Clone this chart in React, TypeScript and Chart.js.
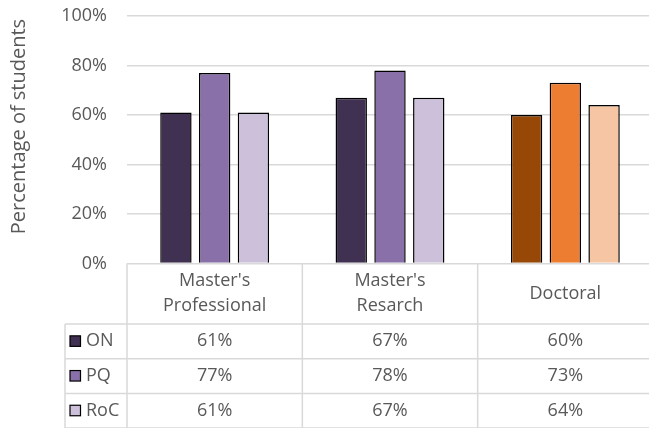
import React, { useEffect, useRef } from "react";
import { Chart, registerables } from "chart.js";

Chart.register(...registerables);

const categories: string[][] = [["Master's", "Professional"], ["Master's", "Resarch"], ["Doctoral"]];
const seriesNames = ["ON", "PQ", "RoC"];
const onValues = [61, 67, 60];
const pqValues = [77, 78, 73];
const rocValues = [61, 67, 64];
const tableLabels = [
  ["61%", "67%", "60%"],
  ["77%", "78%", "73%"],
  ["61%", "67%", "64%"],
];
const yMax = 100;
const yStep = 20;
const axisTitle = "Percentage of students";

const onColors = ["#403152", "#403152", "#974806"];
const pqColors = ["#8A70A8", "#8A70A8", "#ED7D31"];
const rocColors = ["#CCC0DA", "#CCC0DA", "#F6C5A4"];
const legendColors = ["#403152", "#8A70A8", "#CCC0DA"];

const TEXT = "#595959";
const LINE = "#d9d9d9";
const FONT = '"Open Sans", sans-serif';

const tablePlugin = {
  id: "dataTable",
  afterDraw(chart: any) {
    const { ctx, chartArea } = chart;
    const n = categories.length;
    const catW = (chartArea.right - chartArea.left) / n;
    const top = chartArea.bottom;
    const headerH = 60.5;
    const rowH = 34.7;
    const tableLeft = 65;
    const right = chart.width;
    const bottom = top + headerH + rowH * seriesNames.length;

    ctx.save();
    ctx.strokeStyle = LINE;
    ctx.lineWidth = 1.5;
    const line = (x1: number, y1: number, x2: number, y2: number) => {
      ctx.beginPath();
      ctx.moveTo(x1, y1);
      ctx.lineTo(x2, y2);
      ctx.stroke();
    };
    for (let i = 0; i <= n; i++) {
      const xx = chartArea.left + i * catW;
      line(xx, top, xx, bottom);
    }
    line(tableLeft, top + headerH, tableLeft, bottom);
    for (let r = 0; r <= seriesNames.length; r++) {
      const yy = top + headerH + r * rowH;
      line(tableLeft, yy, right, yy);
    }

    ctx.fillStyle = TEXT;
    ctx.font = `18px ${FONT}`;
    ctx.textAlign = "center";
    ctx.textBaseline = "middle";
    const headerMid = top + headerH / 2;
    categories.forEach((lines, i) => {
      const cx = chartArea.left + (i + 0.5) * catW;
      const lh = 25;
      lines.forEach((t, j) => {
        const yy = headerMid + (j - (lines.length - 1) / 2) * lh;
        ctx.fillText(t, cx, yy);
      });
    });

    seriesNames.forEach((name, r) => {
      const cy = top + headerH + (r + 0.5) * rowH;
      ctx.fillStyle = legendColors[r];
      ctx.fillRect(70, cy - 5.5, 10.5, 10.5);
      ctx.strokeStyle = "#000";
      ctx.lineWidth = 1.2;
      ctx.strokeRect(70, cy - 5.5, 10.5, 10.5);
      ctx.fillStyle = TEXT;
      ctx.textAlign = "left";
      ctx.fillText(name, 86, cy);
      ctx.textAlign = "center";
      tableLabels[r].forEach((t, i) => {
        const cx = chartArea.left + (i + 0.5) * catW;
        ctx.fillText(t, cx, cy);
      });
    });

    ctx.save();
    ctx.translate(19, 126.5);
    ctx.rotate(-Math.PI / 2);
    ctx.font = `20px ${FONT}`;
    ctx.fillStyle = TEXT;
    ctx.textAlign = "center";
    ctx.textBaseline = "middle";
    ctx.fillText(axisTitle, 0, 0);
    ctx.restore();

    ctx.restore();
  },
};

export default function App() {
  const ref = useRef<HTMLCanvasElement | null>(null);
  useEffect(() => {
    if (!ref.current) return;
    const chart = new Chart(ref.current, {
      type: "bar",
      data: {
        labels: categories.map((c) => c.join(" ")),
        datasets: [
          { label: seriesNames[0], data: onValues, backgroundColor: onColors, borderColor: "#000", borderWidth: 1.5 },
          { label: seriesNames[1], data: pqValues, backgroundColor: pqColors, borderColor: "#000", borderWidth: 1.5 },
          { label: seriesNames[2], data: rocValues, backgroundColor: rocColors, borderColor: "#000", borderWidth: 1.5 },
        ],
      },
      options: {
        responsive: false,
        animation: false,
        categoryPercentage: 0.663,
        barPercentage: 0.81,
        layout: { padding: { top: 16, bottom: 164.5, left: 0, right: 7 } },
        plugins: { legend: { display: false }, tooltip: { enabled: false }, title: { display: false } },
        scales: {
          x: { display: false },
          y: {
            min: 0,
            max: yMax,
            afterFit: (scale: any) => {
              scale.width = 127;
              scale.paddingTop = 0;
              scale.paddingBottom = 0;
            },
            ticks: {
              stepSize: yStep,
              padding: 20,
              color: TEXT,
              font: { family: FONT, size: 18 },
              callback: (v: any) => `${v}%`,
            },
            grid: { color: LINE, lineWidth: 1.5, drawTicks: false },
            border: { display: false },
          },
        },
      },
      plugins: [tablePlugin],
    });
    return () => chart.destroy();
  }, []);
  return (
    <div
      style={{
        position: "fixed",
        left: 0,
        top: 0,
        width: 649,
        height: 428,
        overflow: "hidden",
        background: "#fff",
      }}
    >
      <canvas ref={ref} width={660} height={428} style={{ display: "block" }} />
    </div>
  );
}
